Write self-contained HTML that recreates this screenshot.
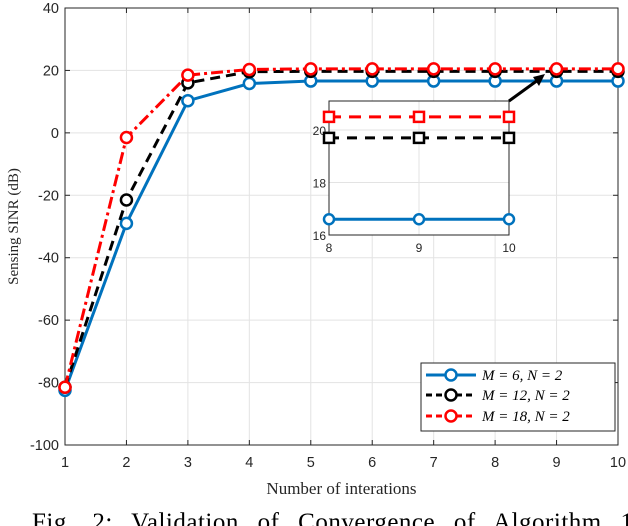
<!DOCTYPE html>
<html><head><meta charset="utf-8"><style>
body{margin:0;background:#fff;width:628px;height:526px;overflow:hidden}
svg{display:block}
text{font-family:"Liberation Sans",sans-serif}
.serif{font-family:"Liberation Serif",serif}
</style></head><body>
<svg id="chart" width="628" height="526" viewBox="0 0 628 526"></svg>
<script>
const iterations=[1,2,3,4,5,6,7,8,9,10];
const seriesM6=[-82.5,-29,10.3,15.8,16.6,16.6,16.6,16.6,16.6,16.6];
const seriesM12=[-81.5,-21.5,16,19.6,19.7,19.7,19.7,19.7,19.7,19.7];
const seriesM18=[-81.5,-1.5,18.5,20.3,20.5,20.5,20.5,20.5,20.5,20.5];
const xTicks=[1,2,3,4,5,6,7,8,9,10];
const yTicks=[-100,-80,-60,-40,-20,0,20,40];
const insetX=[8,9,10];
const insetYTicks=[16,18,20];
const legendLabels=["M = 6, N = 2","M = 12, N = 2","M = 18, N = 2"];

const NS="http://www.w3.org/2000/svg";
const svg=document.getElementById('chart');
function mk(tag,attrs,parent){const e=document.createElementNS(NS,tag);for(const k in attrs)e.setAttribute(k,attrs[k]);(parent||svg).appendChild(e);return e;}
const L=65,R=618,T=8,B=445;
const xs=v=>L+(v-1)/9*(R-L);
const ys=v=>T+(40-v)/140*(B-T);
const IL=329,IR=509,IT=101,IB=235;
const ixs=v=>IL+(v-8)/2*(IR-IL);
const iys=v=>IB-(v-16)/4*(IB-130);

const grid=mk('g',{});


xTicks.forEach(t=>mk('line',{x1:xs(t),x2:xs(t),y1:T,y2:B,stroke:'#e3e3e3','stroke-width':1},grid));
yTicks.forEach(t=>mk('line',{x1:L,x2:R,y1:ys(t),y2:ys(t),stroke:'#e3e3e3','stroke-width':1},grid));
const box=mk('rect',{x:L,y:T,width:R-L,height:B-T,fill:'none',stroke:'#262626','stroke-width':1});


xTicks.forEach(t=>{
  mk('line',{x1:xs(t),x2:xs(t),y1:B,y2:B-5,stroke:'#262626'});mk('line',{x1:xs(t),x2:xs(t),y1:T,y2:T+5,stroke:'#262626'});
  const tx=mk('text',{x:xs(t),y:B+22,'font-size':14.5,'text-anchor':'middle',fill:'#262626'});tx.textContent=t;
  
  
});
yTicks.forEach(t=>{
  mk('line',{x1:L,x2:L+5,y1:ys(t),y2:ys(t),stroke:'#262626'});mk('line',{x1:R,x2:R-5,y1:ys(t),y2:ys(t),stroke:'#262626'});
  const tx=mk('text',{x:L-6,y:ys(t)+5,'font-size':14.5,'text-anchor':'end',fill:'#262626'});tx.textContent=t;
  
  
});
const xt=mk('text',{x:(L+R)/2,y:494,'font-size':17,'text-anchor':'middle',class:'serif',fill:'#262626'});xt.textContent='Number of interations';


const yt=mk('text',{x:0,y:0,'font-size':15,'text-anchor':'middle',class:'serif',fill:'#262626',transform:`translate(18,${(T+B)/2}) rotate(-90)`});yt.textContent='Sensing SINR (dB)';



const styles=[{c:'#0072BD',d:'',data:seriesM6,n:'series-m6'},{c:'#000',d:'10 6',data:seriesM12,n:'series-m12'},{c:'#FF0000',d:'12 4 3 4',data:seriesM18,n:'series-m18'}];
styles.forEach(s=>{
  const g=mk('g',{});
  
  
  mk('polyline',{points:s.data.map((v,i)=>xs(iterations[i])+','+ys(v)).join(' '),fill:'none',stroke:s.c,'stroke-width':3,'stroke-dasharray':s.d},g);
  s.data.forEach((v,i)=>{const c=mk('circle',{cx:xs(iterations[i]),cy:ys(v),r:5.5,fill:'#fff',stroke:s.c,'stroke-width':2.5},g);
    
    });
});

const ig=mk('g',{});


mk('rect',{x:IL,y:IT,width:IR-IL,height:IB-IT,fill:'#fff',stroke:'none'},ig);
insetX.forEach(t=>mk('line',{x1:ixs(t),x2:ixs(t),y1:IT,y2:IB,stroke:'#e3e3e3'},ig));
insetYTicks.forEach(t=>mk('line',{x1:IL,x2:IR,y1:iys(t),y2:iys(t),stroke:'#e3e3e3'},ig));
mk('rect',{x:IL,y:IT,width:IR-IL,height:IB-IT,fill:'none',stroke:'#262626'},ig);
insetX.forEach(t=>{const tx=mk('text',{x:ixs(t),y:IB+17,'font-size':12,'text-anchor':'middle',fill:'#262626'},ig);tx.textContent=t;});
insetYTicks.forEach(t=>{const tx=mk('text',{x:IL-3,y:iys(t)+5,'font-size':12,'text-anchor':'end',fill:'#262626'},ig);tx.textContent=t;});
const insetStyles=[{c:'#0072BD',d:'',data:seriesM6,m:'c'},{c:'#000',d:'10 8',data:seriesM12,m:'s'},{c:'#FF0000',d:'12 8',data:seriesM18,m:'s'}];
insetStyles.forEach(s=>{
  const vals=insetX.map(x=>s.data[iterations.indexOf(x)]);
  mk('polyline',{points:vals.map((v,i)=>ixs(insetX[i])+','+iys(v)).join(' '),fill:'none',stroke:s.c,'stroke-width':3,'stroke-dasharray':s.d},ig);
  vals.forEach((v,i)=>{if(s.m==='c')mk('circle',{cx:ixs(insetX[i]),cy:iys(v),r:5,fill:'#fff',stroke:s.c,'stroke-width':2.5},ig);
   else mk('rect',{x:ixs(insetX[i])-5,y:iys(v)-5,width:10,height:10,fill:'#fff',stroke:s.c,'stroke-width':2.5},ig);});
});
const ar=mk('g',{});


mk('line',{x1:IR,y1:IT,x2:538,y2:80,stroke:'#000','stroke-width':3},ar);
mk('polygon',{points:'545,74 533,77 539,86',fill:'#000'},ar);

const lg=mk('g',{});


mk('rect',{x:421,y:363,width:194,height:68,fill:'#fff',stroke:'#262626'},lg);
const rowsY=[375,395,416];
styles.forEach((s,i)=>{
  const e=mk('g',{},lg);
  
  
  mk('line',{x1:426,x2:476,y1:rowsY[i],y2:rowsY[i],stroke:s.c,'stroke-width':3,'stroke-dasharray':s.d?'6 4':''},e);
  mk('circle',{cx:451,cy:rowsY[i],r:5.5,fill:'#fff',stroke:s.c,'stroke-width':2.5},e);
  const tx=mk('text',{x:482,y:rowsY[i]+5,'font-size':15,class:'serif','font-style':'italic',fill:'#000'},e);tx.textContent=legendLabels[i];
});
const cap=mk('text',{x:32,y:530,'font-size':25,'text-anchor':'start','word-spacing':'12','letter-spacing':'0.5',class:'serif',fill:'#000'});cap.textContent='Fig. 2: Validation of Convergence of Algorithm 1';


</script>
</body></html>
